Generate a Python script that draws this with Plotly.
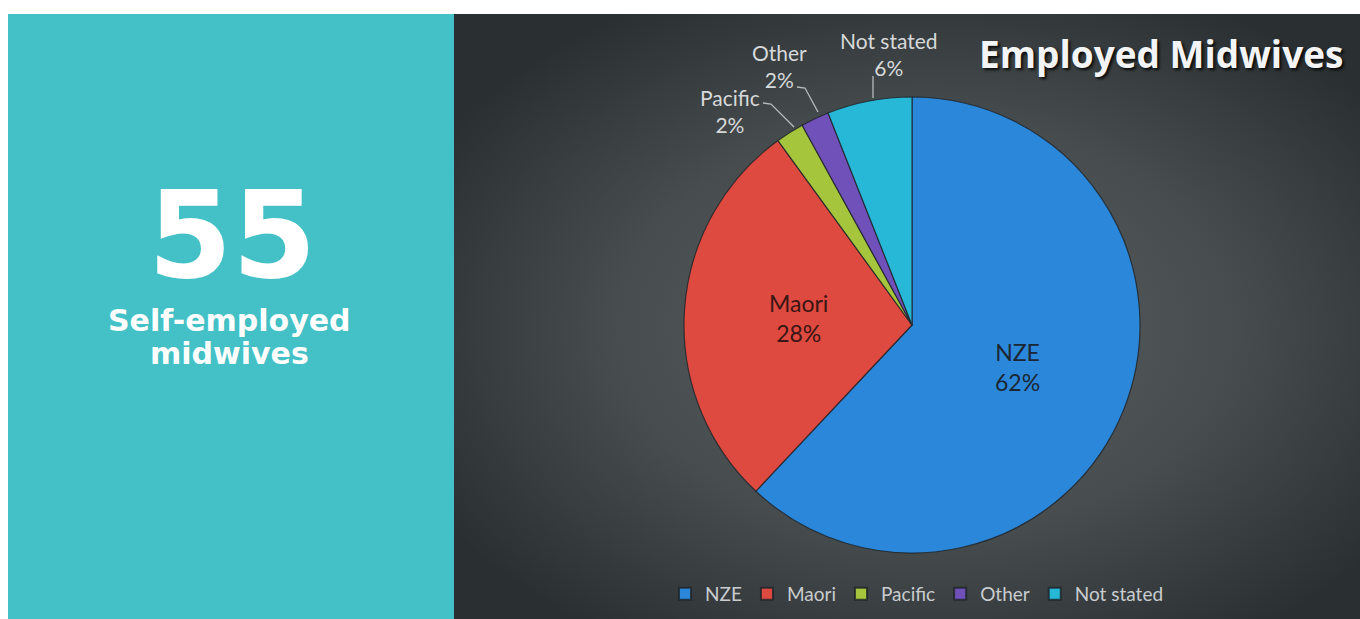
import math
import urllib.parse
import plotly.graph_objects as go

# Ethnicity breakdown of employed midwives (percent)
groups = ["NZE", "Maori", "Pacific", "Other", "Not stated"]
shares = [62, 28, 2, 2, 6]
slice_colors = ["#2b87d9", "#de4940", "#a4c53c", "#7050b9", "#27b8d8"]

headline_value = "55"
headline_caption = ["Self-employed", "midwives"]
chart_title = "Employed Midwives"

W, H = 1360, 619


def px(x):
    return x / W


def py(y):
    return 1 - y / H


fig = go.Figure()

# pie geometry (pixels)
cx, cy, R = 912, 325, 228

fig.add_trace(go.Pie(
    labels=groups,
    values=shares,
    sort=False,
    direction="clockwise",
    rotation=0,
    marker=dict(colors=slice_colors, line=dict(color="rgba(30,35,40,0.8)", width=1.2)),
    textinfo="none",
    hoverinfo="label+percent",
    domain=dict(x=[px(cx - R), px(cx + R)], y=[py(cy + R), py(cy - R)]),
    showlegend=True,
))

# dark panel radial gradient
svg = (
    "<svg xmlns='http://www.w3.org/2000/svg' width='906' height='605'>"
    "<defs><radialGradient id='g' cx='0.52' cy='0.52' r='0.62'>"
    "<stop offset='0' stop-color='#5b6062'/>"
    "<stop offset='0.55' stop-color='#474c4e'/>"
    "<stop offset='1' stop-color='#2a2f31'/>"
    "</radialGradient></defs>"
    "<rect width='906' height='605' fill='url(#g)'/></svg>"
)
bg_uri = "data:image/svg+xml;charset=utf-8," + urllib.parse.quote(svg)

shapes = [
    dict(type="rect", xref="paper", yref="paper", x0=px(8), x1=px(454), y0=0, y1=py(14),
         fillcolor="#43c1c6", line=dict(width=0), layer="below"),
]

# leader lines for the small slices
leaders = [
    [(763, 103), (771, 104), (794, 127)],
    [(797, 87), (805, 88), (818, 112)],
    [(873, 76), (873, 98)],
]
for pts in leaders:
    path = "M" + " L".join(f"{px(x)},{py(y)}" for x, y in pts)
    shapes.append(dict(type="path", xref="paper", yref="paper", path=path,
                       line=dict(color="#b8bcbe", width=1.3)))


def note(x, y, text, font):
    return dict(x=px(x), y=py(y), xref="paper", yref="paper", text=text,
                showarrow=False, xanchor="center", yanchor="middle", font=font)


annotations = [
    note(232, 235, headline_value,
         dict(family="DejaVu Sans", size=121, color="white", weight="bold")),
    note(229, 320, headline_caption[0],
         dict(family="DejaVu Sans", size=30, color="white", weight="bold")),
    note(229, 353, headline_caption[1],
         dict(family="DejaVu Sans", size=30, color="white", weight="bold")),
    note(1161, 53, chart_title,
         dict(family="Open Sans", size=37, color="#f2f4f5", weight="bold",
              shadow="2px 2px 3px rgba(0,0,0,0.85)")),
]

# slice labels: big slices inside along the mid-angle, small ones outside
total = sum(shares)
inside_spots = {
    "NZE": (0.50, "#1b2633"),
    "Maori": (0.50, "#3a1614"),
}
outside_spots = {
    "Pacific": (730, 111),
    "Other": (779, 66),
    "Not stated": (889, 54),
}
cum = 0
for g, v in zip(groups, shares):
    mid = (cum + v / 2) / total * 2 * math.pi
    cum += v
    pct = f"{round(100 * v / total)}%"
    if g in inside_spots:
        frac, col = inside_spots[g]
        lx = cx + frac * R * math.sin(mid)
        ly = cy - frac * R * math.cos(mid)
        annotations.append(note(lx, ly, f"{g}<br>{pct}",
                                dict(family="Lato", size=23, color=col)))
    else:
        lx, ly = outside_spots[g]
        annotations.append(note(lx, ly, f"{g}<br>{pct}",
                                dict(family="Lato", size=21, color="#d6d9da")))

fig.update_layout(
    width=W, height=H,
    margin=dict(l=0, r=0, t=0, b=0),
    paper_bgcolor="white",
    plot_bgcolor="white",
    shapes=shapes,
    annotations=annotations,
    images=[dict(source=bg_uri, xref="paper", yref="paper", x=px(454), y=py(14),
                 sizex=px(W) - px(454), sizey=py(14), xanchor="left", yanchor="top",
                 sizing="stretch", layer="below")],
    legend=dict(orientation="h", x=px(917), y=py(594), xanchor="center", yanchor="middle",
                font=dict(family="Lato", size=19, color="#c9cdcf"),
                bgcolor="rgba(0,0,0,0)", itemsizing="constant"),
)

fig.write_html("out.html")
